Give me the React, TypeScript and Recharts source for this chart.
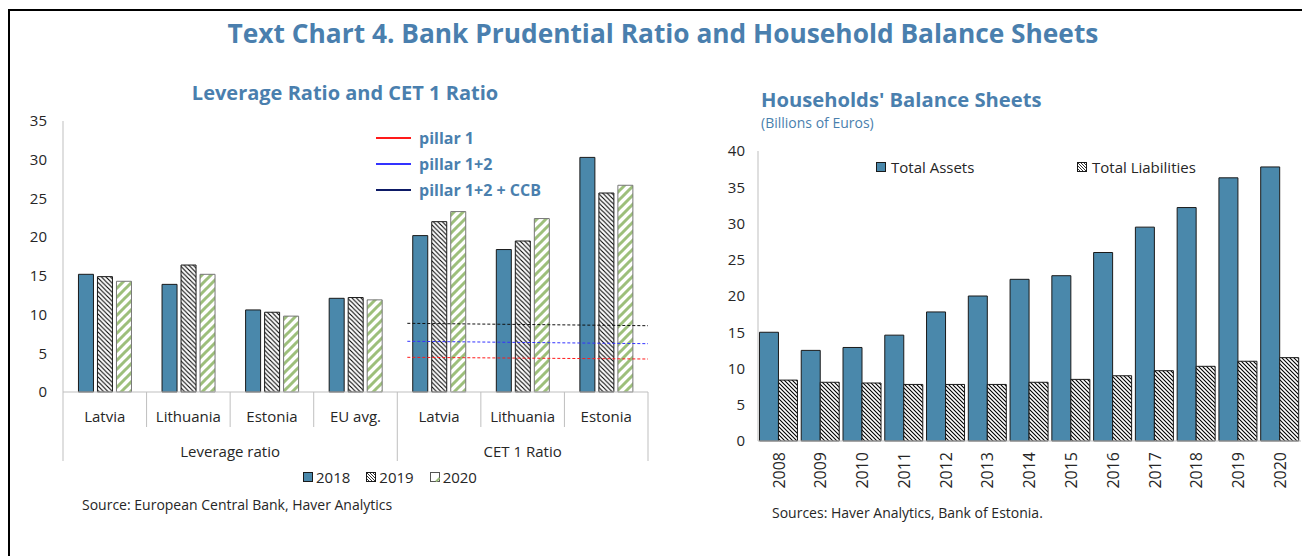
import React from 'react';
import { BarChart, Bar, XAxis, YAxis, ReferenceLine, Legend } from 'recharts';

const FONT = '"Open Sans", "DejaVu Sans", sans-serif';
const TITLE_BLUE = '#4a7fae';
const BAR_BLUE = '#4a88ab';
const GREEN = '#9dbf7b';
const AXIS_GRAY = '#bfbfbf';
const TEXT = '#262626';

// ---------- Left chart: Leverage Ratio and CET 1 Ratio ----------
const leftCategories = ['Latvia', 'Lithuania', 'Estonia', 'EU avg.', 'Latvia', 'Lithuania', 'Estonia'];
const leftGroups = ['Leverage ratio', 'CET 1 Ratio'];
const leftGroupSizes = [4, 3];
const years = ['2018', '2019', '2020'];
const values2018 = [15.2, 13.9, 10.6, 12.1, 20.2, 18.4, 30.3];
const values2019 = [14.9, 16.4, 10.3, 12.2, 22.0, 19.5, 25.7];
const values2020 = [14.3, 15.2, 9.8, 11.9, 23.3, 22.4, 26.7];
const leftTicks = [0, 5, 10, 15, 20, 25, 30, 35];

const pillarNames = ['pillar 1', 'pillar 1+2', 'pillar 1+2 + CCB'];
const pillarLegendColors = ['#ff1a1a', '#3333ff', '#0d1a66'];
const pillarLineColors = ['#ff1a1a', '#3333ff', '#111111'];
const pillarStartValues = [4.48, 6.55, 8.87];
const pillarEndValues = [4.26, 6.24, 8.56];
const pillarFrom = 4.12; // position along the category axis (in category units)
const pillarTo = 7;

// ---------- Right chart: Households' Balance Sheets ----------
const hhYears = ['2008', '2009', '2010', '2011', '2012', '2013', '2014', '2015', '2016', '2017', '2018', '2019', '2020'];
const totalAssets = [15.0, 12.5, 12.9, 14.6, 17.8, 20.0, 22.3, 22.8, 26.0, 29.5, 32.2, 36.3, 37.8];
const totalLiabilities = [8.4, 8.1, 8.0, 7.8, 7.8, 7.8, 8.1, 8.5, 9.0, 9.7, 10.3, 11.0, 11.5];
const hhSeries = ['Total Assets', 'Total Liabilities'];
const rightTicks = [0, 5, 10, 15, 20, 25, 30, 35, 40];

const leftData = leftCategories.map((name, i) => ({
  key: `c${i}`,
  pos: i + 0.5,
  name,
  v2018: values2018[i],
  v2019: values2019[i],
  v2020: values2020[i],
}));

const rightData = hhYears.map((year, i) => ({
  year,
  pos: i + 0.5,
  assets: totalAssets[i],
  liabilities: totalLiabilities[i],
}));

// layout of left chart
const L_W = 680;
const L_H = 556;
const L_MARGIN = { top: 121, right: 32, bottom: 89, left: 23 };
const L_YAXIS_W = 40;
const L_PLOT_W = L_W - L_MARGIN.left - L_MARGIN.right - L_YAXIS_W;
const L_BAND = L_PLOT_W / leftCategories.length;

const groupStarts: number[] = [];
{
  let acc = 0;
  for (const s of leftGroupSizes) {
    groupStarts.push(acc);
    acc += s;
  }
}

function LeftTick(props: any) {
  const { x, y, index } = props;
  const isGroupStart = groupStarts.includes(index);
  const isLast = index === leftCategories.length - 1;
  const els: React.ReactNode[] = [];
  els.push(
    <line key="sep" x1={x - L_BAND / 2} x2={x - L_BAND / 2} y1={y} y2={y + (isGroupStart ? 69 : 35)} stroke={AXIS_GRAY} strokeWidth={1} />
  );
  if (isLast) {
    els.push(<line key="sepR" x1={x + L_BAND / 2} x2={x + L_BAND / 2} y1={y} y2={y + 69} stroke={AXIS_GRAY} strokeWidth={1} />);
  }
  els.push(
    <text key="lab" x={x} y={y + 24} textAnchor="middle" dominantBaseline="central" fontSize={15} fill={TEXT} fontFamily={FONT}>
      {leftCategories[index]}
    </text>
  );
  leftGroups.forEach((g, gi) => {
    const center = groupStarts[gi] + (leftGroupSizes[gi] - 1) / 2;
    if (Math.floor(center) === index) {
      els.push(
        <text key={`g${gi}`} x={x + (center - index) * L_BAND} y={y + 59} textAnchor="middle" dominantBaseline="central" fontSize={15} fill={TEXT} fontFamily={FONT}>
          {g}
        </text>
      );
    }
  });
  return <g>{els}</g>;
}

function RightTick(props: any) {
  const { x, y, payload } = props;
  return (
    <g transform={`translate(${x},${y})`}>
      <text transform="rotate(-90)" textAnchor="end" dy="0.36em" fontSize={16} fill={TEXT} fontFamily={FONT}>
        {payload.value}
      </text>
    </g>
  );
}

function PatternSwatch({ kind }: { kind: string }) {
  const id = `sw-${kind}`;
  return (
    <svg width={10} height={10} style={{ display: 'block' }}>
      <defs>
        <pattern id={id} patternUnits="userSpaceOnUse" width={3} height={3}>
          <rect width={3} height={3} fill="#fff" />
          <path d="M0,0 L3,3 M-1,2 L1,4 M2,-1 L4,1" stroke="#000" strokeWidth={0.8} />
        </pattern>
      </defs>
      {kind === 'solid' && <rect x={0.5} y={0.5} width={9} height={9} fill={BAR_BLUE} stroke="#1a1a1a" strokeWidth={1} />}
      {kind === 'hatch' && <rect x={0.5} y={0.5} width={9} height={9} fill={`url(#${id})`} stroke="#1a1a1a" strokeWidth={1} />}
      {kind === 'green' && (
        <g>
          <rect x={0.5} y={0.5} width={9} height={9} fill="#fff" stroke="#555" strokeWidth={1} />
          <path d="M6,9.5 L9.5,6" stroke={GREEN} strokeWidth={2} />
        </g>
      )}
    </svg>
  );
}

const yearKinds = ['solid', 'hatch', 'green'];

function LeftLegendContent() {
  return (
    <div style={{ position: 'absolute', left: 0, top: 0, width: L_W, height: L_H, pointerEvents: 'none', fontFamily: FONT }}>
      {pillarNames.map((n, i) => (
        <div key={n} style={{ position: 'absolute', left: 376, top: 139 + i * 26 - 13, height: 24, display: 'flex', alignItems: 'center' }}>
          <div style={{ width: 35, height: 0, borderTop: `2px solid ${pillarLegendColors[i]}`, marginRight: 8 }} />
          <span style={{ fontSize: 16, fontWeight: 700, color: TITLE_BLUE, whiteSpace: 'nowrap', lineHeight: '24px' }}>{n}</span>
        </div>
      ))}
      <div style={{ position: 'absolute', left: 303, top: 465, height: 24, display: 'flex', alignItems: 'center' }}>
        {years.map((yr, i) => (
          <div key={yr} style={{ display: 'flex', alignItems: 'center', marginRight: 16 }}>
            <PatternSwatch kind={yearKinds[i]} />
            <span style={{ fontSize: 15, color: TEXT, marginLeft: 3, lineHeight: '24px' }}>{yr}</span>
          </div>
        ))}
      </div>
    </div>
  );
}

const R_W = 602;
const R_H = 556;

function RightLegendContent() {
  const kinds = ['solid', 'hatch'];
  const lefts = [176, 377];
  return (
    <div style={{ position: 'absolute', left: 0, top: 0, width: R_W, height: R_H, pointerEvents: 'none', fontFamily: FONT }}>
      {hhSeries.map((s, i) => (
        <div key={s} style={{ position: 'absolute', left: lefts[i], top: 155, height: 24, display: 'flex', alignItems: 'center' }}>
          <PatternSwatch kind={kinds[i]} />
          <span style={{ fontSize: 15, color: TEXT, marginLeft: 5, lineHeight: '24px', whiteSpace: 'nowrap' }}>{s}</span>
        </div>
      ))}
    </div>
  );
}

const legendWrap = (w: number, h: number) => ({ position: 'absolute' as const, left: 0, top: 0, width: w, height: h, pointerEvents: 'none' as const });

export default function App() {
  return (
    <div style={{ position: 'absolute', left: 0, top: 0, width: 1302, height: 556, background: '#fff', overflow: 'hidden', fontFamily: FONT }}>
      <div style={{ position: 'absolute', left: 8, top: 9, width: 1300, height: 560, borderTop: '2px solid #000', borderLeft: '2px solid #000' }} />
      <div style={{ position: 'absolute', left: 113, top: 14, width: 1100, height: 38, lineHeight: '38px', textAlign: 'center', fontSize: 26.3, fontWeight: 700, color: TITLE_BLUE, whiteSpace: 'nowrap' }}>
        Text Chart 4. Bank Prudential Ratio and Household Balance Sheets
      </div>
      <div style={{ position: 'absolute', left: 145, top: 78, width: 400, height: 30, lineHeight: '30px', textAlign: 'center', fontSize: 20, fontWeight: 700, color: TITLE_BLUE, whiteSpace: 'nowrap' }}>
        Leverage Ratio and CET 1 Ratio
      </div>
      <div style={{ position: 'absolute', left: 761, top: 84, height: 30, lineHeight: '30px', fontSize: 20.2, fontWeight: 700, color: TITLE_BLUE, whiteSpace: 'nowrap' }}>
        Households' Balance Sheets
      </div>
      <div style={{ position: 'absolute', left: 761, top: 113, height: 20, lineHeight: '20px', fontSize: 14, color: TITLE_BLUE, whiteSpace: 'nowrap' }}>
        (Billions of Euros)
      </div>

      <div style={{ position: 'absolute', left: 0, top: 0 }}>
        <BarChart width={L_W} height={L_H} data={leftData} margin={L_MARGIN} barCategoryGap="18.5%" barGap={4}>
          <defs>
            <pattern id="pat2019" patternUnits="userSpaceOnUse" width={4.5} height={4.5}>
              <rect width={4.5} height={4.5} fill="#fff" />
              <path d="M0,0 L4.5,4.5 M-1,3.5 L1,5.5 M3.5,-1 L5.5,1" stroke="#000" strokeWidth={1.1} />
            </pattern>
            <pattern id="pat2020" patternUnits="userSpaceOnUse" width={9} height={9}>
              <rect width={9} height={9} fill="#fff" />
              <path d="M0,9 L9,0 M-3,3 L3,-3 M6,12 L12,6" stroke={GREEN} strokeWidth={3} />
            </pattern>
          </defs>
          <XAxis dataKey="key" interval={0} height={75} tick={<LeftTick />} tickLine={false} tickSize={0} tickMargin={0} axisLine={{ stroke: AXIS_GRAY }} />
          <XAxis xAxisId="num" dataKey="pos" type="number" orientation="top" domain={[0, leftCategories.length]} allowDataOverflow height={0} tick={false} tickLine={false} axisLine={{ stroke: AXIS_GRAY }} />
          <YAxis domain={[0, 35]} ticks={leftTicks} interval={0} width={L_YAXIS_W} tickLine={false} tickSize={6} tickMargin={10} axisLine={{ stroke: AXIS_GRAY }} tick={{ fontSize: 15, fill: TEXT, fontFamily: FONT }} />
          <YAxis yAxisId="right" orientation="right" domain={[0, 35]} width={0} tick={false} tickLine={false} axisLine={{ stroke: AXIS_GRAY }} />
          <Bar dataKey="v2018" name={years[0]} fill={BAR_BLUE} stroke="#1a1a1a" strokeWidth={1} isAnimationActive={false} />
          <Bar dataKey="v2019" name={years[1]} fill="url(#pat2019)" stroke="#1a1a1a" strokeWidth={1} isAnimationActive={false} />
          <Bar dataKey="v2020" name={years[2]} fill="url(#pat2020)" stroke="#777" strokeWidth={1} isAnimationActive={false} />
          {pillarNames.map((n, i) => (
            <ReferenceLine
              key={n}
              xAxisId="num"
              segment={[{ x: pillarFrom, y: pillarStartValues[i] }, { x: pillarTo, y: pillarEndValues[i] }]}
              stroke={pillarLineColors[i]}
              strokeWidth={1}
              strokeDasharray="3 2"
              ifOverflow="visible"
            />
          ))}
          <Legend layout="horizontal" verticalAlign="middle" align="center" wrapperStyle={legendWrap(L_W, L_H)} content={() => <LeftLegendContent />} />
        </BarChart>
      </div>
      <div style={{ position: 'absolute', left: 82, top: 494, height: 22, lineHeight: '22px', fontSize: 14, color: TEXT, whiteSpace: 'nowrap' }}>
        Source: European Central Bank, Haver Analytics
      </div>

      <div style={{ position: 'absolute', left: 700, top: 0 }}>
        <BarChart width={R_W} height={R_H} data={rightData} margin={{ top: 151, right: 1, bottom: 60, left: 18 }} barCategoryGap="3.5%" barGap={0}>
          <defs>
            <pattern id="patLiab" patternUnits="userSpaceOnUse" width={4} height={4}>
              <rect width={4} height={4} fill="#fff" />
              <path d="M0,0 L4,4 M-1,3 L1,5 M3,-1 L5,1" stroke="#000" strokeWidth={1.1} />
            </pattern>
          </defs>
          <XAxis dataKey="year" interval={0} height={55} tick={<RightTick />} tickLine={false} tickSize={6} tickMargin={5} axisLine={{ stroke: AXIS_GRAY }} />
          <XAxis xAxisId="top" dataKey="pos" type="number" orientation="top" domain={[0, hhYears.length]} allowDataOverflow height={0} tick={false} tickLine={false} axisLine={{ stroke: AXIS_GRAY }} />
          <YAxis domain={[0, 40]} ticks={rightTicks} interval={0} width={40} tickLine={false} tickSize={6} tickMargin={7} axisLine={{ stroke: AXIS_GRAY }} tick={{ fontSize: 15, fill: TEXT, fontFamily: FONT }} />
          <YAxis yAxisId="right" orientation="right" domain={[0, 40]} width={0} tick={false} tickLine={false} axisLine={{ stroke: AXIS_GRAY }} />
          <Bar dataKey="assets" name={hhSeries[0]} fill={BAR_BLUE} stroke="#1a1a1a" strokeWidth={1} isAnimationActive={false} />
          <Bar dataKey="liabilities" name={hhSeries[1]} fill="url(#patLiab)" stroke="#1a1a1a" strokeWidth={1} isAnimationActive={false} />
          <Legend layout="horizontal" verticalAlign="middle" align="center" wrapperStyle={legendWrap(R_W, R_H)} content={() => <RightLegendContent />} />
        </BarChart>
      </div>
      <div style={{ position: 'absolute', left: 772, top: 502, height: 22, lineHeight: '22px', fontSize: 14, color: TEXT, whiteSpace: 'nowrap' }}>
        Sources: Haver Analytics, Bank of Estonia.
      </div>
    </div>
  );
}
